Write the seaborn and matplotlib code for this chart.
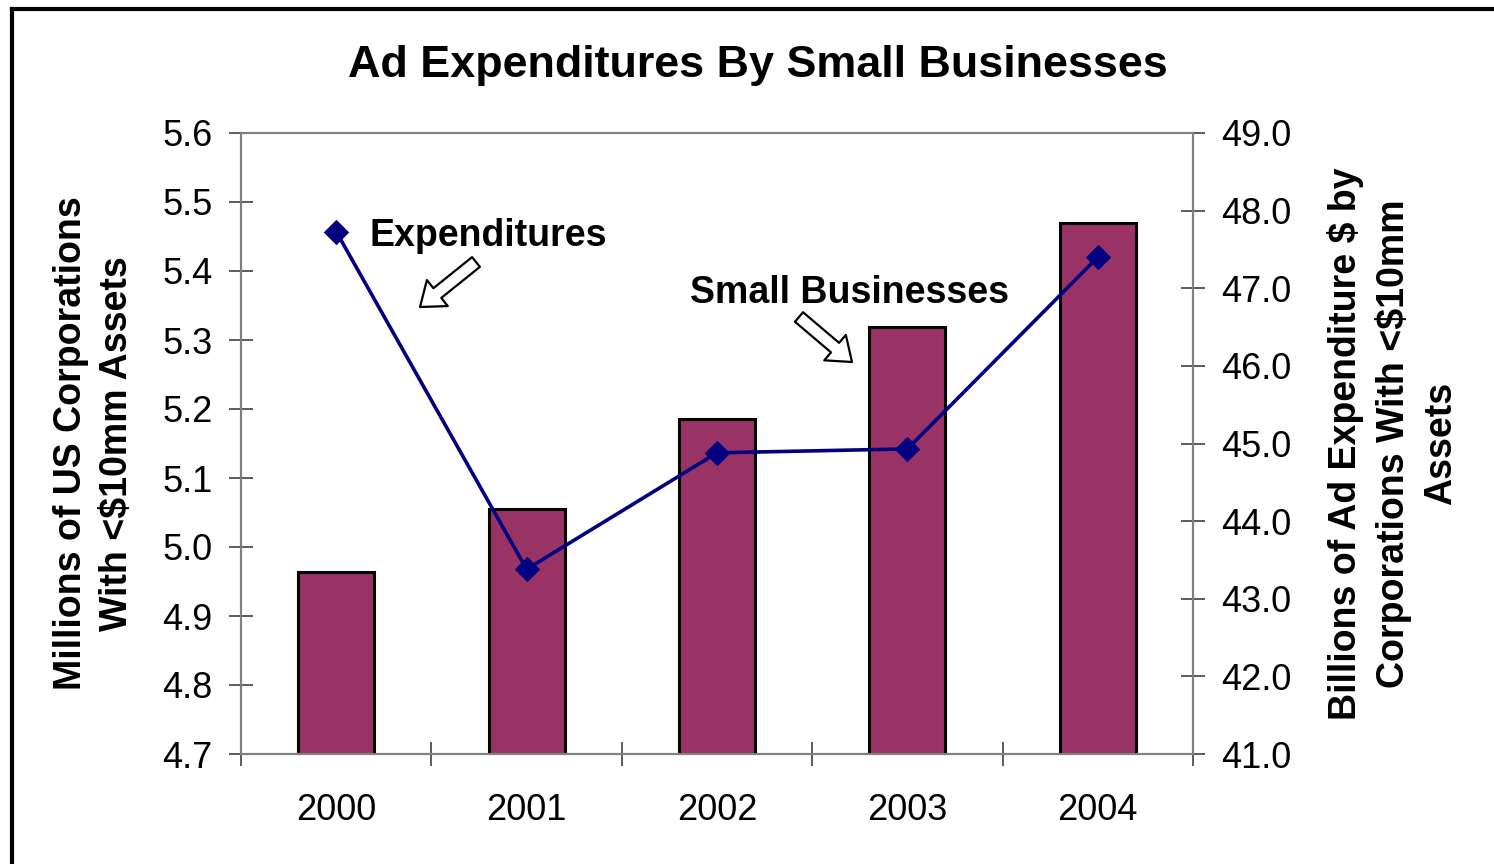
import numpy as np
import pandas as pd
import matplotlib
matplotlib.use("Agg")
import matplotlib.pyplot as plt
from matplotlib.lines import Line2D
import seaborn as sns

# Data
years = ["2000", "2001", "2002", "2003", "2004"]
corporations_mm = [4.964, 5.055, 5.186, 5.319, 5.470]      # millions of US corporations
ad_expenditure_bn = [47.73, 43.38, 44.88, 44.93, 47.40]    # billions of $

left_ticks = [4.7, 4.8, 4.9, 5.0, 5.1, 5.2, 5.3, 5.4, 5.5, 5.6]
right_ticks = [41.0, 42.0, 43.0, 44.0, 45.0, 46.0, 47.0, 48.0, 49.0]

sns.set_style("white")
plt.rcParams["font.family"] = ["Liberation Sans", "DejaVu Sans"]
plt.rcParams["text.color"] = "black"
plt.rcParams["axes.labelcolor"] = "black"
plt.rcParams["xtick.color"] = "black"
plt.rcParams["ytick.color"] = "black"

W, H = 1494, 864
fig = plt.figure(figsize=(W / 100, H / 100), dpi=100)
fig.patch.set_facecolor("white")

def fx(px):
    return px / W

def fy(py):
    return 1 - py / H

ax = fig.add_axes([fx(241), fy(754), fx(1193) - fx(241), fy(133) - fy(754)])

df = pd.DataFrame({"year": years, "corps": corporations_mm})
sns.barplot(data=df, x="year", y="corps", ax=ax, color="#993366", saturation=1,
            width=0.4, edgecolor="black", linewidth=2.2)
ax.set_xlim(-0.5, 4.5)
ax.set_ylim(4.7, 5.6)
ax.set_yticks(left_ticks)
ax.set_yticklabels([f"{v:.1f}" for v in left_ticks])
ax.set_xlabel("")

ax2 = ax.twinx()
sns.lineplot(x=np.arange(len(years)), y=ad_expenditure_bn, ax=ax2, color="#000080",
             linewidth=2.6, marker="D", markersize=12, markeredgecolor="#000080",
             markerfacecolor="#000080")
ax2.set_ylim(41.0, 49.0)
ax2.set_yticks(right_ticks)
ax2.set_yticklabels([f"{v:.1f}" for v in right_ticks])
ax2.set_xlim(-0.5, 4.5)

spine_color = "#808080"
for a in (ax, ax2):
    for s in a.spines.values():
        s.set_color(spine_color)
        s.set_linewidth(1.5)
        s.set_visible(True)

# category boundary ticks on x, label ticks hidden
ax.set_xticks(np.arange(len(years)))
ax.set_xticks(np.arange(-0.5, len(years)), minor=True)
ax.tick_params(axis="x", which="major", length=0, pad=28, labelsize=26,
               labelcolor="black")
ax.tick_params(axis="x", which="minor", length=17, direction="inout", width=1.2,
               color="#404040", bottom=True)
ax.tick_params(axis="y", which="major", length=17, direction="inout", width=1.2,
               color="#404040", labelsize=26, pad=12, left=True, labelcolor="black")
ax2.tick_params(axis="y", which="major", length=17, direction="inout", width=1.2,
                color="#404040", labelsize=26, pad=12, right=True, labelcolor="black")

ax.set_ylabel("Millions of US Corporations\nWith <$10mm Assets", fontsize=27,
              fontweight="bold", linespacing=1.38, va="center", ha="center",
              rotation_mode="default", color="black")
ax.yaxis.set_label_coords((94 - 241) / 952, 0.5)
ax2.set_ylabel("Billions of Ad Expenditure $ by\nCorporations With <$10mm\nAssets",
               fontsize=27, fontweight="bold", linespacing=1.38, va="center",
               ha="center", rotation=90, rotation_mode="default", color="black")
ax2.yaxis.set_label_coords((1393 - 241) / 952, 0.5)

fig.text(fx(758), fy(66), "Ad Expenditures By Small Businesses", fontsize=32.3,
         fontweight="bold", ha="center", va="center", color="black")

# callouts
fig.text(fx(369), fy(236), "Expenditures", fontsize=27, fontweight="bold",
         ha="left", va="center", color="black")
fig.text(fx(690), fy(293), "Small Businesses", fontsize=27, fontweight="bold",
         ha="left", va="center", color="black")

arrow_style = "simple,head_length=0.8,head_width=1.2,tail_width=0.45"
for tail, tip in [((476, 262), (420, 307)), ((799, 317), (852, 362))]:
    fig.add_artist(matplotlib.patches.FancyArrowPatch(
        posA=(fx(tail[0]), fy(tail[1])), posB=(fx(tip[0]), fy(tip[1])),
        transform=fig.transFigure, arrowstyle=arrow_style, mutation_scale=20,
        shrinkA=0, shrinkB=0, facecolor="white", edgecolor="black", linewidth=1.6))

# frame along the left and top edges
fig.add_artist(Line2D([fx(11.5), fx(11.5)], [0, fy(9)], transform=fig.transFigure,
                      color="black", linewidth=3, solid_capstyle="projecting"))
fig.add_artist(Line2D([fx(11.5), 1], [fy(9), fy(9)], transform=fig.transFigure,
                      color="black", linewidth=3, solid_capstyle="projecting"))

fig.savefig("out.png", dpi=100, facecolor="white")
